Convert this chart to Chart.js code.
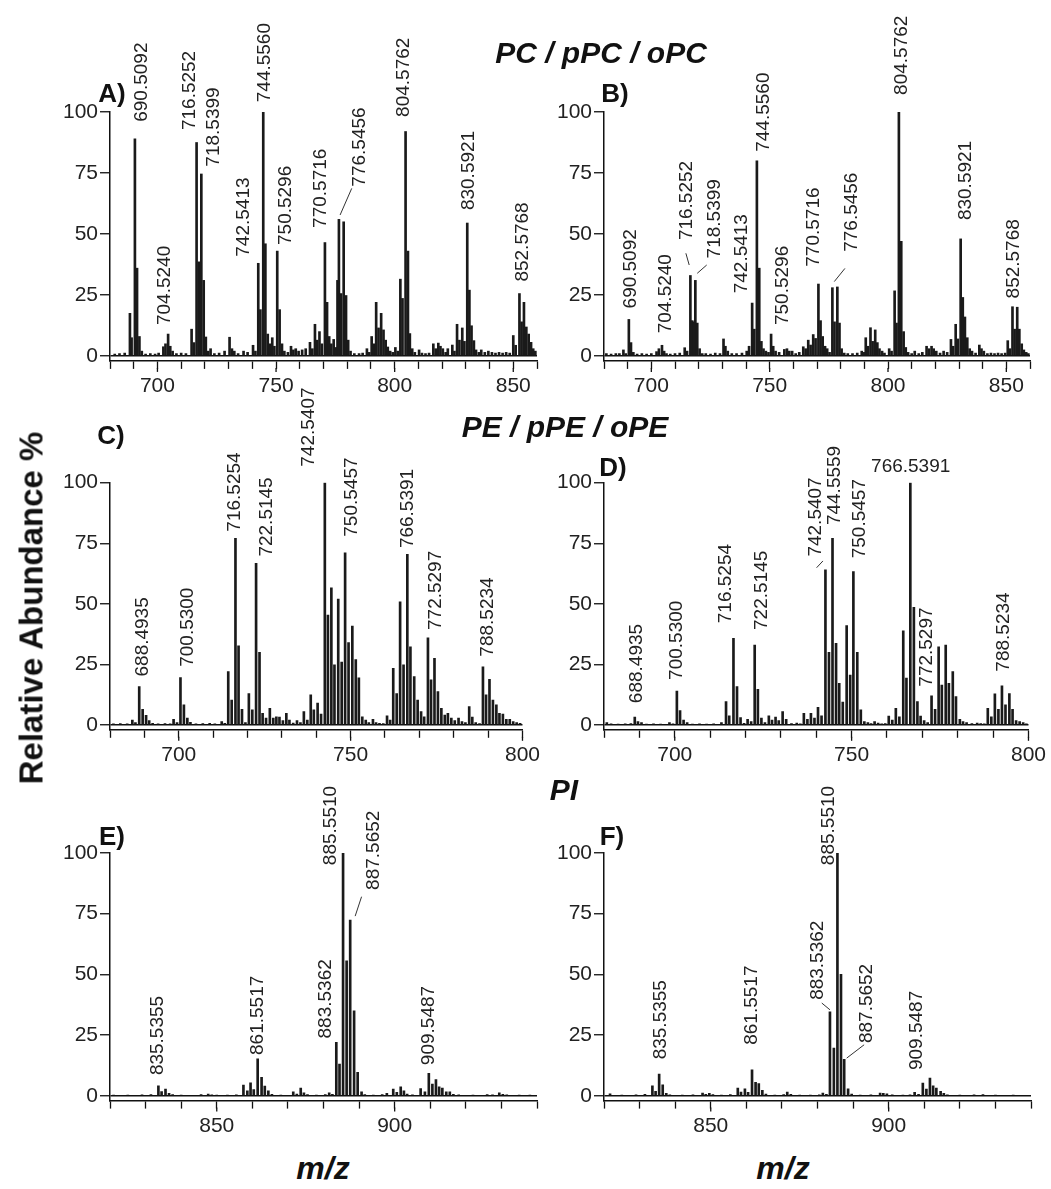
<!DOCTYPE html>
<html>
<head>
<meta charset="utf-8">
<script src="https://cdn.jsdelivr.net/npm/chart.js@4.4.0/dist/chart.umd.min.js"></script>
<style>
  body { margin: 0; background: #fff; }
  #page { position: relative; width: 1051px; height: 1189px; overflow: hidden;
          font-family: "Liberation Sans", Arial, sans-serif; color: #111; }
  canvas { position: absolute; }
  .t { position: absolute; transform: translate(-50%, -50%); white-space: nowrap; line-height: 1; }
  .title { font-size: 30px; font-weight: bold; font-style: italic; }
  .panel { font-size: 26px; font-weight: bold; }
  .mz { font-size: 32px; font-weight: bold; font-style: italic; }
  .ylab { font-size: 33px; font-weight: bold; transform: translate(-50%, -50%) rotate(-90deg); }
</style>
</head>
<body>
<div id="page">
  <canvas id="cA"></canvas>
  <canvas id="cB"></canvas>
  <canvas id="cC"></canvas>
  <canvas id="cD"></canvas>
  <canvas id="cE"></canvas>
  <canvas id="cF"></canvas>

  <div class="t title" style="left:601px; top:53px;">PC / pPC / oPC</div>
  <div class="t title" style="left:565px; top:427px;">PE / pPE / oPE</div>
  <div class="t title" style="left:564px; top:790px;">PI</div>

  <div class="t panel" style="left:112px; top:93px;">A)</div>
  <div class="t panel" style="left:615px; top:93px;">B)</div>
  <div class="t panel" style="left:111px; top:435px;">C)</div>
  <div class="t panel" style="left:613px; top:467px;">D)</div>
  <div class="t panel" style="left:112px; top:836px;">E)</div>
  <div class="t panel" style="left:612px; top:836px;">F)</div>

  <div class="t ylab" style="left:31px; top:608px;">Relative Abundance %</div>
  <div class="t mz" style="left:323px; top:1168px;">m/z</div>
  <div class="t mz" style="left:783px; top:1168px;">m/z</div>
</div>

<script>
// tick values
const yTicks = [0, 25, 50, 75, 100];
const xTicksPC = [680, 690, 700, 710, 720, 730, 740, 750, 760, 770, 780, 790, 800, 810, 820, 830, 840, 850, 860];
const xTicksPE = [680, 690, 700, 710, 720, 730, 740, 750, 760, 770, 780, 790, 800];
const xTicksPI = [820, 830, 840, 850, 860, 870, 880, 890, 900, 910, 920, 930, 940];
const xMajorPC = [700, 750, 800, 850];
const xMajorPE = [700, 750, 800];
const xMajorPI = [850, 900];

// peaks: [m/z, relative abundance]
const peaksA = [[682.0,0.8],[684.0,1],[686.2,1.2],[688.4,17.5],[689.1,7.5],[690.5,89],[691.4,36],[692.4,8],[693.4,2],[695,0.8],[697,1],[699,0.8],[700.5,1.2],[702.5,3.8],[703.4,5],[704.5,9],[705.4,4],[706.4,2],[708,1],[710,1.2],[712,1],[714.4,11],[715.4,5.5],[716.5,87.5],[717.4,38.6],[718.5,74.6],[719.5,31],[720.4,7.8],[721.4,2],[722.4,3],[724,1],[726,1.2],[728.3,2],[730.4,7.7],[731.4,3],[732.4,2],[734,1],[736.3,2],[738,1.5],[740.3,4.4],[741.3,2],[742.5,38],[743.4,19],[744.6,100],[745.5,46],[746.5,9],[747.4,5],[748.4,7.5],[749.3,4],[750.5,43],[751.5,19],[752.5,5],[753.5,2],[755,1.5],[756.3,4],[757.3,2.5],[758.3,3],[759.5,2],[761,2.5],[762.5,3],[764.3,5.6],[765.3,3],[766.4,13],[767.3,6.5],[768.3,10],[769.3,5],[770.6,46.5],[771.5,22],[772.4,8],[773.3,5],[774.3,6.8],[775.2,3.5],[775.9,31],[776.5,56],[777.4,25.6],[778.5,55],[779.5,24.8],[780.4,6.5],[781.4,2],[783,1],[785,1],[786.5,1.2],[788.3,3],[789.3,1.5],[790.3,8],[791.2,5],[792.2,22],[793.2,11.5],[794.3,17.5],[795.3,10.7],[796.2,6.5],[797.1,3.7],[798.1,2],[799.2,1.5],[800.3,3.5],[801.3,2],[802.4,31.5],[803.3,23.6],[804.6,92],[805.6,43],[806.4,9.2],[807.4,3],[808.5,1.5],[810.3,2.5],[811.5,1.2],[813,1],[814.5,1.2],[816.3,5],[817.3,3],[818.4,5.3],[819.3,4],[820.3,3],[821.5,1.5],[822.4,3],[824.3,4.5],[825.2,2],[826.3,13],[827.3,6.5],[828.5,11.5],[829.4,6],[830.6,54.5],[831.5,27],[832.4,12.4],[833.4,6.3],[834.3,2.5],[835.5,1.5],[836.5,2.5],[838,1.5],[839.5,2],[841,1.5],[842.5,1.2],[844,1.5],[845.5,1.2],[847,1.5],[848.5,1.2],[850.0,8.4],[851.0,4.4],[852.6,25.6],[853.5,14],[854.5,22],[855.5,11.9],[856.5,9],[857.5,5.6],[858.4,3],[859.3,2]];

const peaksB = [[681,1],[683,0.8],[685,1],[686.5,1],[688.2,2.5],[689.2,1],[690.5,15],[691.4,5.5],[692.4,1.5],[694,0.8],[696,1],[698,0.8],[700,1],[702.2,1.8],[703.2,3],[704.5,4.4],[705.4,2],[706.4,1],[708,0.8],[710,1],[712,1.2],[714.1,3.4],[715.1,2],[716.5,33],[717.3,14.5],[718.0,14],[718.6,31],[719.4,13.5],[720.4,3],[721.5,1],[723,1],[725,0.8],[727,1.2],[729,1],[730.5,7],[731.3,4],[732.3,2],[734,1],[736,1],[738.3,1.2],[740.3,2],[741.3,4],[742.6,21.7],[743.5,11],[744.6,80],[745.6,36],[746.5,6],[747.4,3],[748.4,2],[749.5,1.5],[750.6,9],[751.5,4],[752.5,2],[754,1.5],[756.2,2.7],[757.3,3],[758.3,2],[759.5,2],[761,1],[762.5,1.5],[764.2,3.8],[765.2,3],[766.3,6.5],[767.3,4.5],[768.4,8.8],[769.4,7.2],[770.6,29.5],[771.5,14.5],[772.4,8],[773.4,4],[774.3,3],[775.3,1.5],[776.5,28],[777.4,14],[778.6,28.3],[779.5,13.5],[780.4,3],[781.5,1.2],[783,1],[785,1],[787,1.2],[788.9,2],[789.8,1.5],[790.6,7.5],[791.5,4],[792.6,11.6],[793.5,6],[794.6,10.7],[795.5,5.5],[796.4,3],[797.5,2],[798.5,1.2],[800.5,3],[801.5,2],[802.8,26.7],[803.6,13.5],[804.6,100],[805.6,47],[806.6,10],[807.5,3.5],[808.5,1.5],[810,1],[811.3,2],[813,1],[814.5,1.5],[816.3,4],[817.3,3],[818.4,4],[819.3,3],[820.4,2],[822,1.2],[823.5,2],[825,1.5],[826.6,6.8],[827.5,4],[828.6,13],[829.5,7],[830.7,48],[831.6,24],[832.5,16],[833.5,7.5],[834.5,3],[835.5,2],[837,1.2],[838.6,4.5],[839.5,3],[840.5,2],[842,1],[843.5,1.2],[845,1],[846.5,1.2],[848,1],[849.5,1.2],[850.6,6.3],[851.5,3],[852.6,20.2],[853.5,11],[854.6,20],[855.5,11],[856.5,5],[857.4,2.5],[858.4,1.5],[859.3,1]];

const peaksC = [[681,0.5],[683,0.6],[685,0.5],[686.5,2],[687.4,1],[688.5,15.8],[689.5,6.5],[690.5,4],[691.4,1.8],[692.4,0.7],[694,0.5],[696,0.6],[697.5,0.5],[698.5,2.3],[699.5,1],[700.5,19.6],[701.5,8.3],[702.5,2.8],[703.4,1.1],[705,0.5],[707,0.6],[709,0.7],[710.5,0.5],[712.5,1.4],[713.4,0.7],[714.4,22],[715.4,10.3],[716.5,77],[717.4,32.7],[718.4,6.5],[719.4,1],[720.4,13],[721.4,6.2],[722.5,66.7],[723.5,30],[724.4,4.8],[725.4,2.8],[726.5,6.9],[727.5,2.8],[728.4,3.4],[729.3,3.2],[730.3,1.8],[731.3,4.8],[732.2,2],[733.3,0.8],[734.4,1.8],[735.4,1],[736.4,5.5],[737.4,2],[738.4,12.4],[739.3,6.2],[740.4,9],[741.4,4.5],[742.5,100],[743.4,45.4],[744.4,56.6],[745.3,24.8],[746.4,52],[747.4,26],[748.4,71],[749.4,34],[750.5,40.8],[751.5,27],[752.4,19.5],[753.4,3.4],[754.4,2],[755.3,1],[756.5,2.3],[757.4,1],[758.4,0.7],[759.5,0.6],[760.6,3.8],[761.5,2],[762.4,23.4],[763.4,13],[764.4,50.8],[765.4,24.8],[766.5,70.4],[767.4,32.3],[768.5,20],[769.5,10.3],[770.5,5.5],[771.4,3.4],[772.5,36],[773.4,18.6],[774.4,27.5],[775.4,13.8],[776.4,6.9],[777.4,4.1],[778.3,4.8],[779.3,2.8],[780.3,1.8],[781.4,2.8],[782.4,1.4],[783.4,1],[784.5,7.6],[785.4,3.2],[786.4,1],[787.5,0.6],[788.5,24],[789.4,12.4],[790.4,18.8],[791.4,10.3],[792.4,8.3],[793.3,4.8],[794.3,4.5],[795.3,2.3],[796.3,2.3],[797.3,1.4],[798.3,1],[799.3,0.7]];

const peaksD = [[680.8,1],[682,0.5],[684,0.4],[686,0.5],[687.6,0.6],[688.7,3.2],[689.6,1.4],[690.6,1],[692,0.4],[694,0.5],[696,0.4],[698.5,1],[699.5,0.5],[700.6,14],[701.5,5.9],[702.5,2],[703.5,1],[705,0.4],[707,0.5],[709,0.4],[711,0.5],[713.2,1],[714.5,9.6],[715.4,3.8],[716.6,35.8],[717.6,15.8],[718.6,3],[719.6,0.7],[720.6,2.3],[721.6,1.4],[722.6,33],[723.5,14.7],[724.5,2.8],[725.5,1],[726.6,3.8],[727.5,2],[728.5,3.2],[729.4,1.8],[730.5,5.5],[731.5,2.3],[733,0.6],[734.5,0.8],[735.5,0.5],[736.5,4.8],[737.5,2.3],[738.5,4.8],[739.5,2.8],[740.5,7.3],[741.5,3.8],[742.6,64],[743.6,30],[744.6,77],[745.6,33.7],[746.5,17.2],[747.5,9.4],[748.6,41],[749.6,20.6],[750.5,63.3],[751.6,30],[752.6,6.2],[753.6,1.4],[754.6,1],[755.5,0.6],[756.5,1.4],[757.5,0.8],[758.5,0.5],[759.5,0.6],[760.5,3.7],[761.5,2],[762.5,6.9],[763.5,3.4],[764.6,38.9],[765.5,19.3],[766.6,100],[767.6,48.6],[768.6,9.6],[769.5,3.7],[770.5,1.8],[771.5,1],[772.6,12],[773.6,6.5],[774.6,32.3],[775.5,16.5],[776.6,33],[777.5,17.2],[778.6,22],[779.5,11.7],[780.6,2.3],[781.5,1.4],[782.5,1],[784,0.6],[785.5,0.8],[786.5,0.6],[787.5,0.5],[788.5,6.9],[789.5,3.4],[790.5,12.8],[791.5,6.5],[792.5,16.2],[793.5,8.3],[794.6,13],[795.5,6.5],[796.5,1.8],[797.5,1.4],[798.5,1],[799.4,0.5]];

const peaksE = [[821,0.3],[825,0.3],[829,0.4],[831.5,0.5],[833.6,4.1],[834.5,1.7],[835.6,2.7],[836.6,1],[837.6,0.5],[840,0.3],[845.6,0.5],[847.6,0.7],[848.6,0.4],[850,0.3],[853,0.3],[855.5,0.4],[857.5,4.4],[858.6,2],[859.5,5.3],[860.4,2.5],[861.5,15.2],[862.6,7.6],[863.5,4],[864.5,2],[865.5,0.6],[868,0.3],[871.5,1.6],[872.5,0.7],[873.6,3.2],[874.5,1.2],[875.5,0.5],[878,0.3],[880.5,0.5],[881.6,1.2],[882.5,0.6],[883.6,22],[884.5,13],[885.5,100],[886.5,55.6],[887.5,72.4],[888.6,35],[889.6,9.6],[890.7,1.6],[891.6,0.5],[894,0.3],[896.5,0.5],[897.8,1],[899.6,2.7],[900.6,1.4],[901.7,3.7],[902.6,2],[903.5,0.7],[905,0.4],[907.3,3],[908.5,1.6],[909.6,9.2],[910.6,4.8],[911.6,6.7],[912.5,3.7],[913.4,3.2],[914.5,1.6],[915.5,1.6],[916.5,0.6],[918,0.4],[922,0.3],[926,0.5],[927.5,0.4],[929.4,1.2],[930.4,0.6],[931.5,0.4],[935,0.3],[938,0.3]];

const peaksF = [[821.7,0.8],[825,0.3],[829,0.4],[831.5,0.6],[833.6,4.1],[834.5,1.8],[835.5,8.9],[836.5,4.5],[837.5,1],[838.5,0.4],[842,0.3],[845,0.4],[847.7,1.1],[848.6,0.6],[849.6,1],[850.6,0.5],[853,0.3],[855.5,0.5],[857.6,3.2],[858.5,1.5],[859.6,2.9],[860.5,1.4],[861.6,10.7],[862.6,5.5],[863.5,5],[864.5,2.2],[865.5,0.7],[868,0.3],[870.5,0.5],[871.5,1.5],[872.5,0.6],[875,0.3],[878,0.3],[880.5,0.4],[881.5,1.1],[882.5,0.6],[883.5,34.6],[884.6,19.6],[885.6,100],[886.6,50],[887.5,15],[888.6,2.9],[889.6,0.7],[892,0.3],[895,0.4],[897.6,1.1],[898.5,1],[899.5,0.8],[901,0.4],[904,0.3],[906,0.4],[907.3,1.4],[908.4,0.6],[909.6,5.2],[910.6,2.7],[911.6,7.3],[912.5,4.1],[913.4,3.2],[914.6,1.8],[915.5,1],[916.5,0.4],[920,0.3],[924,0.4],[926.5,0.5],[930,0.3],[935,0.3]];

// peak annotations: [text, m/z of text column, abundance at text start]
const labelsA = [['690.5092',693.3,96],['704.5240',703.2,12.7],['716.5252',713.7,92.6],['718.5399',723.6,77.6],['742.5413',736.5,40.7],['744.5560',745.3,104],['750.5296',754.1,45.5],['770.5716',768.8,52.5],['776.5456',785.4,69.4],['804.5762',803.7,98],['830.5921',831.3,59.8],['852.5768',853.9,30.5]];
const labelsB = [['690.5092',691.4,19.5],['704.5240',706.1,9.3],['716.5252',714.9,47.5],['718.5399',726.9,40],['742.5413',738.4,25.7],['744.5560',747.6,83.7],['750.5296',755.5,12.7],['770.5716',768.7,36.6],['776.5456',784.9,42.7],['804.5762',805.8,107],['830.5921',832.8,55.7],['852.5768',853.0,23.6]];
const labelsC = [['688.4935',689.6,20],['700.5300',702.7,24],['716.5254',716.3,79.8],['722.5145',725.6,69.5],['742.5407',737.8,106.6],['750.5457',750.3,77.7],['766.5391',766.7,73],['772.5297',774.7,39.2],['788.5234',789.8,28.2]];
const labelsD = [['688.4935',689.4,9],['700.5300',700.6,18.6],['716.5254',714.5,42],['722.5145',724.5,39.2],['742.5407',739.8,69.5],['744.5559',745.1,82.5],['750.5457',752.2,68.8],['772.5297',771.3,15.8],['788.5234',792.9,22]];
const flatLabelsD = [['766.5391',766.7,104.5]];
const labelsE = [['835.5355',833.3,8.5],['861.5517',861.4,16.8],['883.5362',880.6,23.6],['885.5510',882.0,95],['887.5652',894.2,84.8],['909.5487',909.7,12.6]];
const labelsF = [['835.5355',835.9,15],['861.5517',861.5,21],['883.5362',880.0,39.5],['885.5510',883.3,95],['887.5652',893.8,21.7],['909.5487',908.0,10.6]];

// leader lines: [m/z1, y1, m/z2, y2]
const leadersA = [[777.0,57.8,781.9,68.7]];
const leadersB = [[714.6,42.1,716.0,37.3],[723.4,37.3,719.4,33.9],[781.8,35.9,777.3,30.5]];
const leadersD = [[740.1,64.9,741.9,67.7]];
const leadersE = [[890.7,82,888.9,74]];
const leadersF = [[881.2,38.2,883.5,35.4],[893.1,21,888.2,15.5]];

const FONT = '"Liberation Sans", Arial, sans-serif';
Chart.defaults.font.family = FONT;
Chart.defaults.color = '#222';

function annotPlugin(p) {
  return {
    id: 'annot',
    afterDatasetsDraw(chart) {
      const { ctx, chartArea } = chart;
      const x = chart.scales.x, y = chart.scales.y;
      ctx.save();
      ctx.fillStyle = '#222';
      ctx.font = '19px ' + FONT;
      ctx.textAlign = 'left';
      ctx.textBaseline = 'middle';
      p.labels.forEach(([t, mz, v]) => {
        ctx.save();
        ctx.translate(x.getPixelForValue(mz), y.getPixelForValue(v));
        ctx.rotate(-Math.PI / 2);
        ctx.fillText(t, 0, 0);
        ctx.restore();
      });
      ctx.textAlign = 'center';
      ctx.textBaseline = 'alphabetic';
      p.flat.forEach(([t, mz, v]) => {
        ctx.fillText(t, x.getPixelForValue(mz), y.getPixelForValue(v));
      });
      ctx.strokeStyle = '#333';
      ctx.lineWidth = 1;
      p.leaders.forEach(([x1, y1, x2, y2]) => {
        ctx.beginPath();
        ctx.moveTo(x.getPixelForValue(x1), y.getPixelForValue(y1));
        ctx.lineTo(x.getPixelForValue(x2), y.getPixelForValue(y2));
        ctx.stroke();
      });
      // labelled ticks are a little longer
      ctx.strokeStyle = '#111';
      ctx.lineWidth = 1.3;
      p.majors.forEach(v => {
        const px = x.getPixelForValue(v);
        ctx.beginPath();
        ctx.moveTo(px, chartArea.bottom + 7);
        ctx.lineTo(px, chartArea.bottom + 11);
        ctx.stroke();
      });
      ctx.restore();
    }
  };
}

const YW = 60, XH = 40;

function makePanel(p) {
  const c = document.getElementById(p.id);
  const [L, T, W, H] = p.box;
  const [ax0, ay0, ax1, ay1] = p.area;
  c.style.left = L + 'px';
  c.style.top = T + 'px';
  c.width = W;
  c.height = H;

  new Chart(c, {
    type: 'bar',
    data: {
      datasets: [{
        data: p.peaks.map(([mz, v]) => ({ x: mz, y: v })),
        backgroundColor: '#1a1a1a',
        borderWidth: 0,
        barThickness: 2
      }]
    },
    options: {
      responsive: false,
      animation: false,
      devicePixelRatio: 1,
      layout: { padding: { left: ax0 - L - YW, top: ay0 - T, right: L + W - ax1, bottom: T + H - ay1 - XH } },
      plugins: { legend: { display: false }, tooltip: { enabled: false } },
      scales: {
        x: {
          type: 'linear',
          min: p.range[0],
          max: p.range[1],
          offset: false,
          afterBuildTicks: s => { s.ticks = p.ticks.map(v => ({ value: v })); },
          afterFit: s => { s.height = XH; },
          ticks: {
            autoSkip: false, maxRotation: 0, padding: 5,
            font: { size: 21 }, color: '#222',
            callback: v => p.majors.includes(v) ? String(v) : ''
          },
          grid: { drawOnChartArea: false, offset: false, tickLength: 8, tickColor: '#111', tickWidth: 1.3 },
          border: { color: '#111', width: 1.5 }
        },
        y: {
          min: -2,
          max: 100,
          afterBuildTicks: s => { s.ticks = yTicks.map(v => ({ value: v })); },
          afterFit: s => { s.width = YW; },
          ticks: { padding: 2, font: { size: 21 }, color: '#222' },
          grid: {
            tickLength: 10, tickColor: '#111', tickWidth: 1.3, lineWidth: 1.5,
            color: ctx => (ctx.tick && ctx.tick.value === 0) ? '#111' : 'rgba(0,0,0,0)'
          },
          border: { color: '#111', width: 1.5 }
        }
      }
    },
    plugins: [annotPlugin(p)]
  });
}

[
  { id: 'cA', box: [0, 0, 545, 410],   area: [110, 112, 537, 360.9],   range: [680, 860], ticks: xTicksPC, majors: xMajorPC, peaks: peaksA, labels: labelsA, flat: [], leaders: leadersA },
  { id: 'cB', box: [545, 0, 506, 410], area: [604, 112, 1030, 360.9],  range: [680, 860], ticks: xTicksPC, majors: xMajorPC, peaks: peaksB, labels: labelsB, flat: [], leaders: leadersB },
  { id: 'cC', box: [0, 380, 545, 410], area: [110, 482.7, 537, 729.8], range: [680, 800], ticks: xTicksPE, majors: xMajorPE, peaks: peaksC, labels: labelsC, flat: [], leaders: [] },
  { id: 'cD', box: [545, 380, 506, 410], area: [604, 482.7, 1031, 729.8], range: [680, 800], ticks: xTicksPE, majors: xMajorPE, peaks: peaksD, labels: labelsD, flat: flatLabelsD, leaders: leadersD },
  { id: 'cE', box: [0, 770, 545, 380], area: [110, 853, 537, 1100.6],  range: [820, 940], ticks: xTicksPI, majors: xMajorPI, peaks: peaksE, labels: labelsE, flat: [], leaders: leadersE },
  { id: 'cF', box: [545, 770, 506, 380], area: [604, 853, 1031, 1100.6], range: [820, 940], ticks: xTicksPI, majors: xMajorPI, peaks: peaksF, labels: labelsF, flat: [], leaders: leadersF }
].forEach(makePanel);
</script>
</body>
</html>
